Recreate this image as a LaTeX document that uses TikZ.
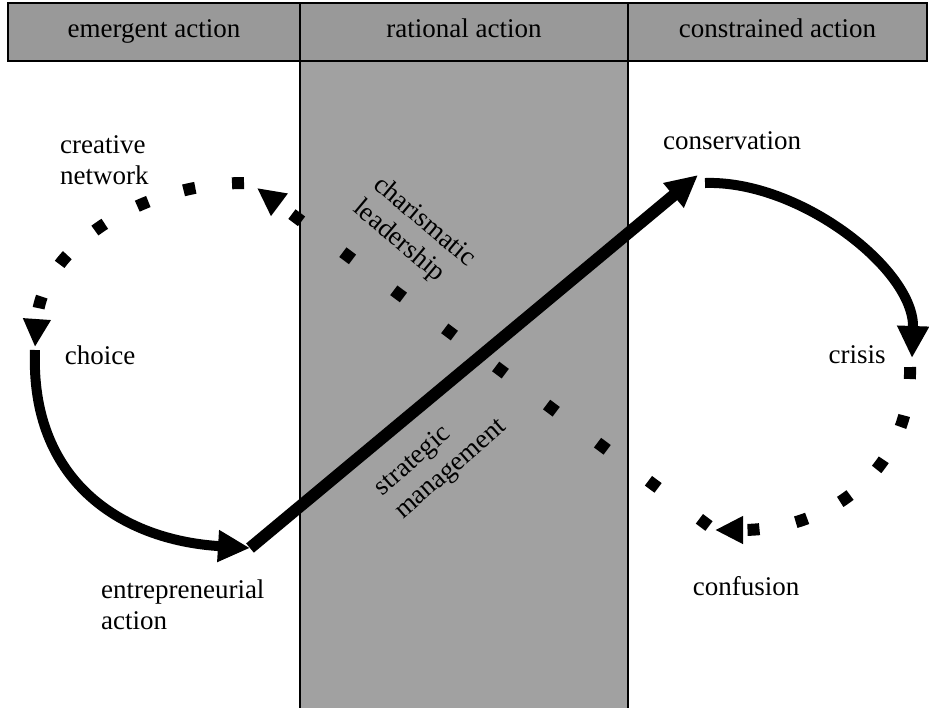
\documentclass[tikz,border=0pt]{standalone}
\usepackage{fontspec}
\setmainfont{Liberation Serif}
\usetikzlibrary{positioning}
\usetikzlibrary{arrows.meta}
\definecolor{headgray}{gray}{0.6}
\definecolor{colgray}{gray}{0.63}
\tikzset{bigtip/.tip={Triangle[length=16pt,width=15pt]}}
\tikzset{smalltip/.tip={Triangle[length=14pt,width=13pt]}}

\begin{document}
\begin{tikzpicture}[x=0.5pt,y=-0.5pt,
        every node/.style={font=\fontsize{13.5}{15.5}\selectfont},
        cell/.style={draw,line width=0.8pt,fill=headgray,outer sep=0pt,inner sep=0pt,
            minimum height=29pt,text height=1.6ex,text depth=0.45ex},
        flow/.style={line width=5pt,-bigtip},
        drift/.style={line width=6pt,dash pattern=on 6pt off 18.5pt,-smalltip}]
            \useasboundingbox (0,0) rectangle (929,708);
            \fill[colgray] (300,62) rectangle (628,708);
            \draw[line width=0.8pt] (300,62) -- (300,708) (628,62) -- (628,708);

            \node[cell,minimum width=146pt] (emergent) at (154,32) {emergent action};
            \node[cell,minimum width=164pt,right=0pt of emergent] (rational) {rational action};
            \node[cell,minimum width=149.5pt,right=0pt of rational] (constrained) {constrained action};

            \node (choice)                          at (100,355) {choice};
            \node (creative) [anchor=west,align=left] at (53,160)  {creative\\network};
            \node (entre) [anchor=west,align=left]  at (94,605)  {entrepreneurial\\action};
            \node (conservation)                    at (732,141) {conservation};
            \node (crisis)                          at (857,355) {crisis};
            \node (confusion)                       at (746,586) {confusion};
            \node (charisma) [rotate=-40,align=left] at (414,234) {charismatic\\leadership};
            \node (strategic) [rotate=41,align=left] at (441,458) {strategic\\management};

            % ends of the loop
            \coordinate (c0) at (35,347);
            \coordinate (c1) at (35,350);
            \coordinate (e1) at (250,548);
            \coordinate (k1) at (698,175);
            \coordinate (k2) at (705,183);
            \coordinate (r1) at (912,358);
            \coordinate (r2) at (910,367);
            \coordinate (f1) at (715,530);
            \coordinate (f2) at (709,526);
            \coordinate (n1) at (257,188);
            \coordinate (n2) at (244,183);

            \draw[flow] (c1) .. controls (30,480) and (120,540) .. (e1);
            \draw[flow,line width=6pt] (e1) -- (k1);
            \draw[flow] (k2) .. controls (800,180) and (915,270) .. (r1);
            \draw[drift] (r2) .. controls (912,470) and (830,530) .. (f1);
            \draw[drift,dash pattern=on 6pt off 25.8pt] (f2) -- (n1);
            \draw[drift] (n2) .. controls (145,183) and (42,245) .. (c0);
        \end{tikzpicture}
\end{document}
